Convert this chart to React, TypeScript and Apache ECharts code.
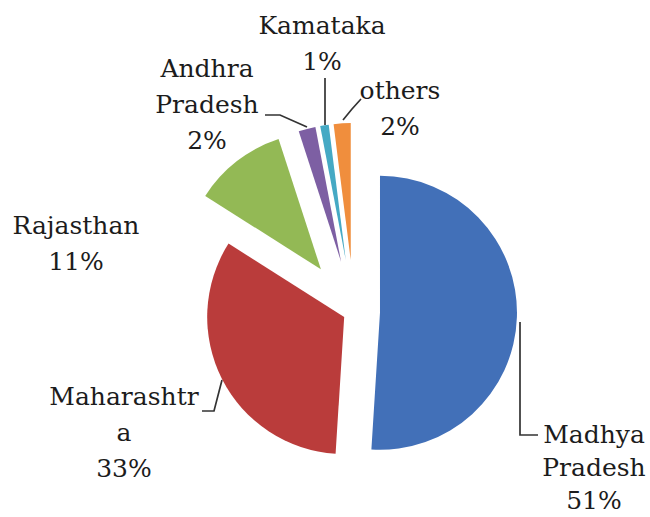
import React, { useEffect, useRef } from 'react';
import * as echarts from 'echarts';

// ---- data ----
const categories = ['Madhya Pradesh', 'Maharashtra', 'Rajasthan', 'Andhra Pradesh', 'Kamataka', 'others'];
const labelTexts = ['Madhya\nPradesh', 'Maharashtr\na', 'Rajasthan', 'Andhra\nPradesh', 'Kamataka', 'others'];
const shares = [51, 33, 11, 2, 1, 2];

// ---- styles / layout ----
const COLORS = ['#4270B8', '#BA3C3B', '#93B955', '#7D5FA3', '#45A9C4', '#F08E3D'];
const PIE_CENTER = [354, 312];
const RADIUS = 137;
const EXPLODE = [26, 11, 54, 52, 52, 52];
// label block: [centerX, topY, lineHeight]
const LABEL_POS: number[][] = [
  [594, 418, 33],
  [124, 378, 36],
  [76, 207, 36],
  [207, 50, 36],
  [322, 7, 36],
  [400, 72, 36],
];
const LEADERS: (number[][] | null)[] = [
  [[520, 322], [520, 435], [538, 435]],
  [[222, 380], [214, 411], [202, 411]],
  null,
  [[307, 127], [280, 115], [265, 115]],
  [[325, 125], [325, 100], [325, 78]],
  [[343, 120], [352, 109], [361, 99]],
];

export default function App() {
  const ref = useRef<HTMLDivElement>(null);
  useEffect(() => {
    if (!ref.current) return;
    const chart = echarts.init(ref.current, null, { renderer: 'svg' });
    const total = shares.reduce((a, b) => a + b, 0);
    let cum = 0;
    const series: any[] = shares.map((v, i) => {
      const before = cum;
      cum += v;
      const startAngle = 90 - (before / total) * 360;
      const mid = ((before + v / 2) / total) * 2 * Math.PI;
      const cx = PIE_CENTER[0] + EXPLODE[i] * Math.sin(mid);
      const cy = PIE_CENTER[1] - EXPLODE[i] * Math.cos(mid);
      const lp = LABEL_POS[i];
      const leader = LEADERS[i];
      return {
        type: 'pie',
        silent: true,
        center: [cx, cy],
        radius: [0, RADIUS],
        startAngle,
        clockwise: true,
        avoidLabelOverlap: false,
        minShowLabelAngle: 0,
        data: [
          {
            name: categories[i],
            value: v,
            itemStyle: { color: COLORS[i] },
            label: {
              show: true,
              position: 'outside',
              formatter: () => `${labelTexts[i]}\n${v}%`,
              fontFamily: 'DejaVu Serif',
              fontSize: 25,
              lineHeight: lp[2],
              color: '#1c1c1c',
              align: 'center',
            },
            labelLine: {
              show: !!leader,
              lineStyle: { color: '#333333', width: 1.7 },
            },
          },
          {
            name: '',
            value: total - v,
            itemStyle: { color: 'rgba(0,0,0,0)' },
            label: { show: false },
            labelLine: { show: false },
          },
        ],
        labelLayout: (params: any) => {
          if (params.dataIndex !== 0) return {};
          const res: any = {
            x: lp[0],
            y: lp[1],
            align: 'center',
            verticalAlign: 'top',
          };
          if (leader) res.labelLinePoints = leader;
          return res;
        },
      };
    });
    chart.setOption({
      animation: false,
      backgroundColor: '#ffffff',
      series,
    });
    return () => chart.dispose();
  }, []);
  return (
    <div
      ref={ref}
      style={{ position: 'fixed', left: 0, top: 0, width: 650, height: 517, background: '#fff' }}
    />
  );
}
